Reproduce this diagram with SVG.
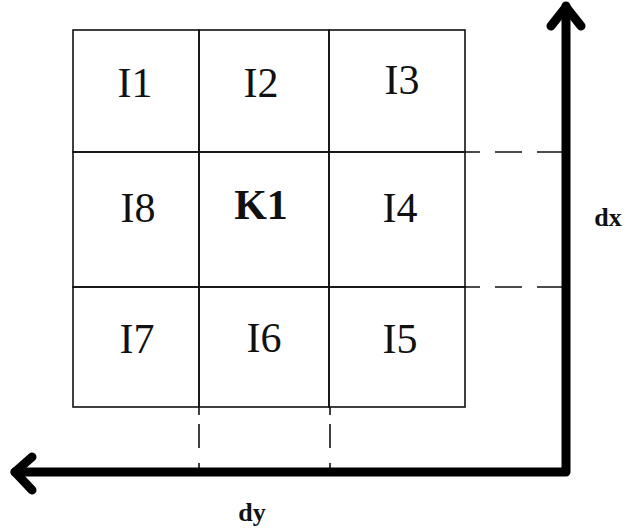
<svg xmlns="http://www.w3.org/2000/svg" width="626" height="529" viewBox="0 0 626 529">
<style>
.cell{fill:none;stroke:#111;stroke-width:1.6}
.lbl{font-family:"Liberation Serif","Times New Roman",serif;font-size:42px;fill:#111;text-anchor:middle}
.b{font-weight:bold}
.ax{fill:none;stroke:#000;stroke-width:9;stroke-linecap:round;stroke-linejoin:round}
.dh{stroke:#111;stroke-width:1.6;stroke-dasharray:15 15 27 15 40}
.dv{stroke:#111;stroke-width:1.6;stroke-dasharray:8 9 24 15 20}
.axl{font-family:"Liberation Serif","Times New Roman",serif;font-size:26px;font-weight:bold;fill:#111;text-anchor:middle}
</style>
<rect width="626" height="529" fill="#fff"/>
<g id="I1"><rect class="cell" x="73" y="30" width="126" height="122"/><text class="lbl" x="135" y="97">I1</text></g>
<g id="I2"><rect class="cell" x="199" y="30" width="130" height="122"/><text class="lbl" x="261" y="97">I2</text></g>
<g id="I3"><rect class="cell" x="329" y="30" width="136" height="122"/><text class="lbl" x="402" y="94">I3</text></g>
<g id="I8"><rect class="cell" x="73" y="152" width="126" height="135"/><text class="lbl" x="138" y="222">I8</text></g>
<g id="K1"><rect class="cell" x="199" y="152" width="130" height="135"/><text class="lbl b" x="261" y="219">K1</text></g>
<g id="I4"><rect class="cell" x="329" y="152" width="136" height="135"/><text class="lbl" x="400" y="222">I4</text></g>
<g id="I7"><rect class="cell" x="73" y="287" width="126" height="120"/><text class="lbl" x="137" y="353">I7</text></g>
<g id="I6"><rect class="cell" x="199" y="287" width="130" height="120"/><text class="lbl" x="264" y="352">I6</text></g>
<g id="I5"><rect class="cell" x="329" y="287" width="136" height="120"/><text class="lbl" x="400" y="353">I5</text></g>
<g id="connectors">
<line class="dh" x1="465" y1="152" x2="566" y2="152"/>
<line class="dh" x1="465" y1="287" x2="566" y2="287"/>
<line class="dv" x1="199" y1="407" x2="199" y2="470"/>
<line class="dv" x1="330" y1="407" x2="330" y2="470"/>
<polyline class="ax" points="566,6 566,472 15,472"/>
<polyline class="ax" points="551,26 566,7 581,26"/>
<polyline class="ax" points="32,457 15,472 32,490"/>
</g>
<text class="axl" x="608" y="226">dx</text>
<text class="axl" x="252" y="521">dy</text>
</svg>
